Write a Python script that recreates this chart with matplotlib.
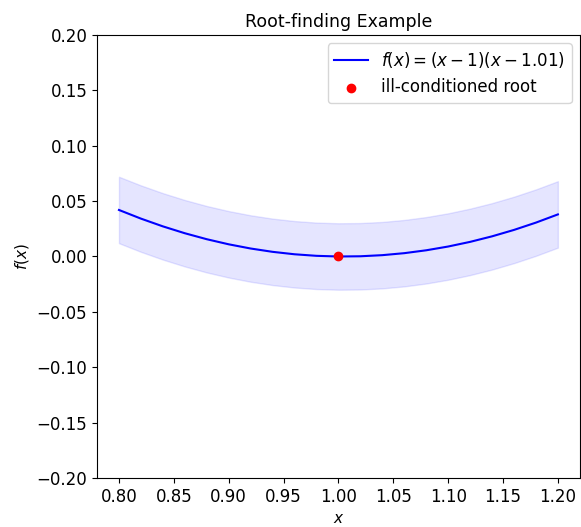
import matplotlib
matplotlib.use("Agg")
import numpy as np
import matplotlib.pyplot as plt

# Werte
x_vals = [0.80, 0.82, 0.84, 0.86, 0.88, 0.90, 0.92, 0.94, 0.96, 0.98, 1.00,
          1.02, 1.04, 1.06, 1.08, 1.10, 1.12, 1.14, 1.16, 1.18, 1.20]
y_vals = [0.0420, 0.0342, 0.0272, 0.0210, 0.0156, 0.0110, 0.0072, 0.0042, 0.0020, 0.0006, 0.0000,
          0.0002, 0.0012, 0.0030, 0.0056, 0.0090, 0.0132, 0.0182, 0.0240, 0.0306, 0.0380]
band = 0.03
root_x = [1.0]
root_y = [0.0]

x = np.array(x_vals)
y = np.array(y_vals)

fig = plt.figure(figsize=(5.81, 5.27), dpi=100)
ax = fig.add_axes([0.167, 0.093, 0.831, 0.8406])

ax.plot(x, y, color='b', label=r'$f(x) = (x-1)(x-1.01)$')
ax.fill_between(x, y - band, y + band, color='b', alpha=0.1)
ax.scatter(root_x, root_y, color='red', zorder=5, label='ill-conditioned root')

ax.set_ylim(-0.2, 0.2)
ax.set_xlabel('$x$', fontsize=11)
ax.set_ylabel('$f(x)$', fontsize=11)
ax.set_title('Root-finding Example', fontsize=12.5)
ax.tick_params(labelsize=12)
ax.legend(fontsize=12)

fig.savefig('out.png', dpi=100)
